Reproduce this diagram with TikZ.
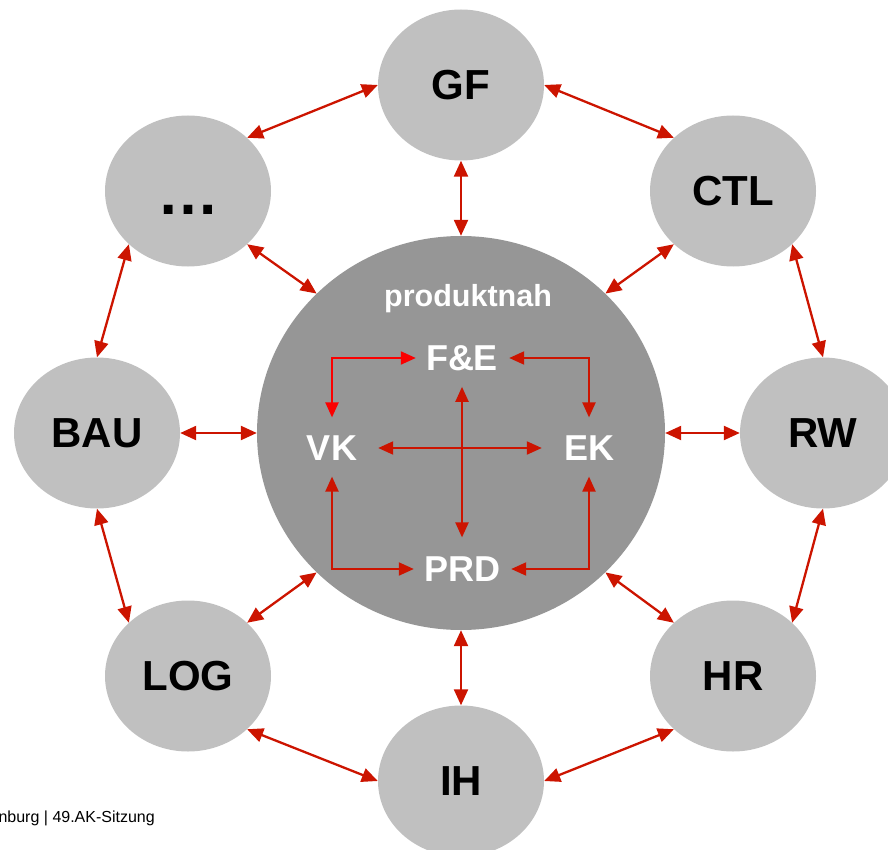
\documentclass[tikz,border=0pt]{standalone}
\usepackage{fontspec}
\setmainfont{Liberation Sans}
\usetikzlibrary{arrows.meta,shapes.geometric}
\definecolor{linkred}{RGB}{204,20,0}
\definecolor{brightred}{RGB}{250,0,0}
\definecolor{outergray}{RGB}{192,192,192}
\definecolor{innergray}{RGB}{150,150,150}
\begin{document}
\begin{tikzpicture}[x=1pt,y=-1pt,
 dept/.style={ellipse, fill=outergray, minimum width=166pt, minimum height=151pt, inner sep=0pt, font=\fontsize{42}{42}\selectfont\bfseries, text=black},
 core/.style={ellipse, fill=innergray, minimum width=408pt, minimum height=394pt, inner sep=0pt},
 inlabel/.style={inner sep=0pt, font=\fontsize{36}{36}\selectfont\bfseries, text=white},
 link/.style={draw=linkred, line width=2.3pt, {Triangle[length=16pt,width=14pt]}-{Triangle[length=16pt,width=14pt]}},
 ilink/.style={draw=linkred, line width=2.1pt, {Triangle[length=15pt,width=13pt]}-{Triangle[length=15pt,width=13pt]}}
]
\useasboundingbox (0,0) rectangle (888,850);
\node[core] (C) at (461,433) {};
\node[dept] (GF) at (461,85) {GF};
\node[dept] (CTL) at (733,191) {CTL};
\node[dept] (RW) at (823,433) {RW};
\node[dept] (HR) at (733,676) {HR};
\node[dept] (IH) at (461,781) {IH};
\node[dept] (LOG) at (188,676) {LOG};
\node[dept] (BAU) at (97,433) {BAU};
\node[dept] (D) at (188,191) {};
\node[anchor=base, inner sep=0pt, font=\fontsize{62}{62}\selectfont\bfseries] (dots) at (188,215) {…};

\node[anchor=base, inner sep=0pt, font=\fontsize{30.5}{30.5}\selectfont\bfseries, text=white] (pn) at (468,306) {produktnah};
\node[inlabel] (FE) at (462,358) {F\&E};
\node[inlabel] (VK) at (332,448) {VK};
\node[inlabel] (EK) at (589,448) {EK};
\node[inlabel] (PRD) at (462,569) {PRD};

\node[anchor=base east, inner sep=0pt, font=\fontsize{16}{16}\selectfont] (foot) at (155,822) {nburg | 49.AK-Sitzung};

\draw[link] (GF.180) -- (D.42);
\draw[link] (GF.0) -- (CTL.138);
\draw[link] (GF.270) -- (C.90);
\draw[link] (CTL.222) -- (C.44);
\draw[link] (D.318) -- (C.136);
\draw[link] (D.222) -- (BAU.90);
\draw[link] (CTL.318) -- (RW.90);
\draw[link] (BAU.0) -- (C.180);
\draw[link] (RW.180) -- (C.0);
\draw[link] (BAU.270) -- (LOG.138);
\draw[link] (RW.270) -- (HR.42);
\draw[link] (LOG.42) -- (C.224);
\draw[link] (HR.138) -- (C.316);
\draw[link] (IH.90) -- (C.270);
\draw[link] (LOG.318) -- (IH.180);
\draw[link] (HR.222) -- (IH.0);

\draw[ilink, draw=brightred] ([yshift=18pt]VK.north) |- ([xshift=-10pt]FE.west);
\draw[ilink] ([xshift=11pt]FE.east) -| ([yshift=18pt]EK.north);
\draw[ilink] ([xshift=21pt]VK.east) -- ([xshift=-22pt]EK.west);
\draw[ilink] ([yshift=-16pt]FE.south) -- ([yshift=19pt]PRD.north);
\draw[ilink] ([yshift=-16pt]VK.south) |- ([xshift=-10pt]PRD.west);
\draw[ilink] ([yshift=-16pt]EK.south) |- ([xshift=11pt]PRD.east);
\end{tikzpicture}
\end{document}
